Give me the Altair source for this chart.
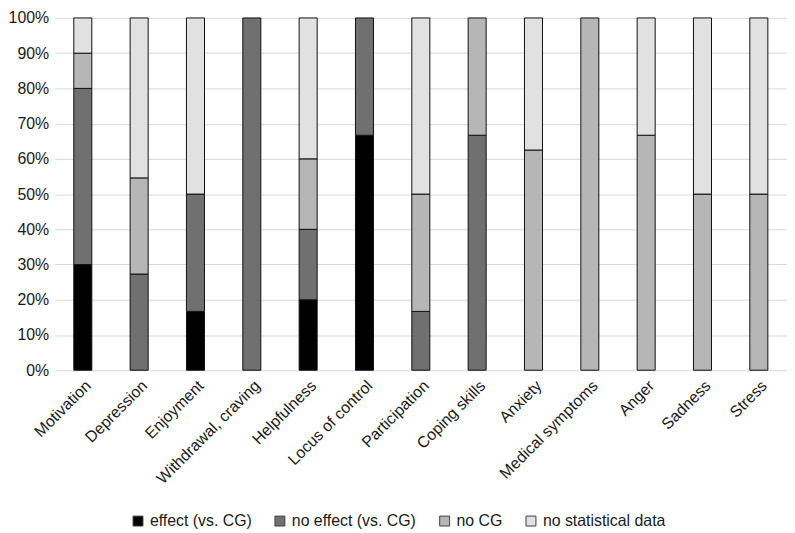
import altair as alt
import pandas as pd

categories = ["Motivation", "Depression", "Enjoyment", "Withdrawal, craving",
              "Helpfulness", "Locus of control", "Participation", "Coping skills",
              "Anxiety", "Medical symptoms", "Anger", "Sadness", "Stress"]
series = ["effect (vs. CG)", "no effect (vs. CG)", "no CG", "no statistical data"]
effect =      [30, 0, 16.7, 0, 20, 66.7, 0, 0, 0, 0, 0, 0, 0]
no_effect =   [50, 27.3, 33.3, 100, 20, 33.3, 16.7, 66.7, 0, 0, 0, 0, 0]
no_cg =       [10, 27.3, 0, 0, 20, 0, 33.3, 33.3, 62.5, 100, 66.7, 50, 50]
no_stat =     [10, 45.4, 50, 0, 40, 0, 50, 0, 37.5, 0, 33.3, 50, 50]
colors = ["#000000", "#707070", "#b6b6b6", "#e1e1e1"]

rows = []
for si, (name, vals) in enumerate(zip(series, [effect, no_effect, no_cg, no_stat])):
    for c, v in zip(categories, vals):
        if v > 0:
            rows.append({"category": c, "series": name, "order": si, "value": v / 100.0})
df = pd.DataFrame(rows)

FONT = "Liberation Sans"

chart = alt.Chart(df).mark_bar(stroke="#111111", strokeWidth=1).encode(
    x=alt.X("category:N", sort=categories, title=None,
            scale=alt.Scale(domain=categories, paddingInner=0.68, paddingOuter=0.34),
            axis=alt.Axis(labelAngle=-45, domain=False, ticks=False, labelPadding=7,
                          labelFontSize=16, labelColor="#1a1a1a", labelFont=FONT)),
    y=alt.Y("value:Q", stack="zero", title=None,
            scale=alt.Scale(domain=[0, 1]),
            axis=alt.Axis(format=".0%", values=[i / 10 for i in range(11)], domain=False, ticks=False,
                          labelPadding=6, labelFontSize=16, labelColor="#1a1a1a",
                          labelFont=FONT, gridColor="#d9d9d9")),
    fill=alt.Fill("series:N", sort=series,
                  scale=alt.Scale(domain=series, range=colors),
                  legend=alt.Legend(title=None, orient="none", direction="horizontal", columns=4,
                                    legendX=76, legendY=499, symbolType="square", symbolSize=100,
                                    symbolStrokeColor="#404040", symbolStrokeWidth=1,
                                    labelFontSize=16, labelColor="#1a1a1a", labelFont=FONT,
                                    columnPadding=20, labelOffset=4)),
    order=alt.Order("order:Q", sort="ascending"),
).properties(width=738, height=355, padding=0).configure_view(stroke=None).configure_axis(grid=True)

chart.save("out.html", embed_options={"renderer": "svg", "actions": False})
